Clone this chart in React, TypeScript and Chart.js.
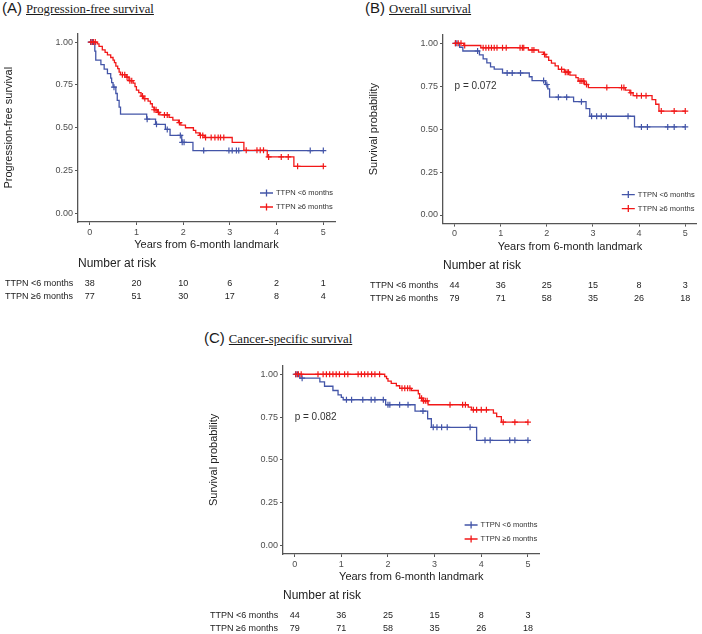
import React, { useEffect, useRef } from "react";
import { Chart, registerables } from "chart.js";

Chart.register(...registerables);

const SANS = "'Liberation Sans', Arial, sans-serif";
const SERIF = "'Liberation Serif', 'Times New Roman', serif";
const BLUE = "#4355A8";
const RED = "#F21818";

// ---------- shared labels ----------
const yearTicks = [0, 1, 2, 3, 4, 5];
const probTicks = [0, 0.25, 0.5, 0.75, 1];
const groupLabels = ["TTPN <6 months", "TTPN \u22656 months"];
const xTitle = "Years from 6-month landmark";
const riskTitle = "Number at risk";

// ---------- (A) Progression-free survival ----------
const pfsShortTimes = [0.11, 0.13, 0.24, 0.31, 0.38, 0.45, 0.47, 0.5, 0.56, 0.59, 0.63, 0.66, 1.22, 1.41, 1.62, 1.72, 1.97, 2.21];
const pfsShortSurv = [0.947, 0.895, 0.868, 0.842, 0.816, 0.79, 0.763, 0.737, 0.7, 0.66, 0.62, 0.579, 0.55, 0.52, 0.49, 0.455, 0.415, 0.367];
const pfsShortCensor = [0.02, 0.06, 0.52, 1.23, 1.43, 1.66, 1.94, 1.98, 2.02, 2.44, 2.98, 3.05, 3.14, 3.19, 4.72, 5.0];
const pfsLongTimes = [0.16, 0.2, 0.27, 0.33, 0.38, 0.45, 0.5, 0.53, 0.56, 0.6, 0.63, 0.66, 0.78, 0.84, 0.93, 0.97, 1.0, 1.05, 1.1, 1.15, 1.25, 1.3, 1.34, 1.38, 1.45, 1.5, 1.7, 1.78, 1.9, 1.95, 2.05, 2.22, 2.27, 2.35, 2.45, 3.05, 3.3, 3.8, 4.37];
const pfsLongSurv = [0.99, 0.975, 0.955, 0.94, 0.925, 0.91, 0.895, 0.88, 0.86, 0.845, 0.825, 0.81, 0.795, 0.775, 0.76, 0.74, 0.72, 0.705, 0.685, 0.67, 0.655, 0.64, 0.62, 0.605, 0.59, 0.575, 0.56, 0.545, 0.53, 0.515, 0.5, 0.485, 0.47, 0.455, 0.443, 0.415, 0.368, 0.33, 0.275];
const pfsLongCensor = [0.03, 0.08, 0.12, 0.7, 0.75, 0.8, 0.86, 0.9, 1.13, 1.18, 1.38, 1.42, 1.47, 1.6, 1.66, 1.92, 2.37, 2.42, 2.48, 2.6, 2.68, 2.75, 2.8, 2.87, 3.35, 3.58, 3.65, 3.72, 3.83, 4.1, 4.25, 4.45, 5.0];
const pfsRiskShort = [38, 20, 10, 6, 2, 1];
const pfsRiskLong = [77, 51, 30, 17, 8, 4];

// ---------- (B) Overall survival ----------
const osShortTimes = [0.11, 0.18, 0.54, 0.62, 0.7, 0.78, 0.86, 1.04, 1.62, 1.68, 1.97, 2.02, 2.06, 2.58, 2.85, 2.93, 3.9];
const osShortSurv = [0.977, 0.955, 0.932, 0.909, 0.886, 0.863, 0.85, 0.827, 0.805, 0.783, 0.76, 0.735, 0.686, 0.66, 0.62, 0.575, 0.513];
const osShortCensor = [0.02, 0.05, 0.5, 1.14, 1.25, 1.43, 1.93, 2.0, 2.25, 2.43, 2.75, 2.97, 3.08, 3.18, 3.29, 3.76, 4.05, 4.18, 4.62, 4.76, 5.0];
const osLongTimes = [0.2, 0.57, 1.6, 1.82, 1.93, 1.98, 2.04, 2.1, 2.18, 2.25, 2.38, 2.5, 2.63, 2.68, 2.82, 2.9, 3.7, 3.8, 3.87, 4.28, 4.36, 4.43];
const osLongSurv = [0.987, 0.974, 0.961, 0.948, 0.935, 0.92, 0.9, 0.885, 0.868, 0.848, 0.832, 0.815, 0.8, 0.78, 0.76, 0.742, 0.727, 0.712, 0.695, 0.672, 0.645, 0.605];
const osLongCensor = [0.02, 0.08, 0.14, 0.22, 0.62, 0.68, 0.74, 0.8, 0.86, 0.92, 1.04, 1.12, 1.42, 1.47, 1.5, 1.68, 1.72, 1.95, 2.32, 2.4, 2.44, 2.47, 2.72, 2.76, 2.8, 2.86, 3.3, 3.62, 3.67, 3.82, 3.95, 4.05, 4.15, 4.48, 4.76, 5.0];
const osRiskShort = [44, 36, 25, 15, 8, 3];
const osRiskLong = [79, 71, 58, 35, 26, 18];
const osPValue = "p = 0.072";

// ---------- (C) Cancer-specific survival ----------
const cssShortTimes = [0.11, 0.54, 0.64, 0.82, 0.93, 1.0, 1.04, 1.95, 2.58, 2.85, 2.93, 3.9];
const cssShortSurv = [0.977, 0.955, 0.93, 0.905, 0.88, 0.865, 0.851, 0.822, 0.785, 0.74, 0.69, 0.614];
const cssShortCensor = [0.02, 0.06, 0.16, 1.11, 1.22, 1.46, 1.64, 1.72, 1.9, 2.0, 2.04, 2.25, 2.43, 2.75, 2.97, 3.05, 3.15, 3.27, 3.76, 4.08, 4.19, 4.61, 4.72, 5.0];
const cssLongTimes = [1.93, 1.97, 2.0, 2.07, 2.18, 2.25, 2.5, 2.65, 2.68, 2.75, 2.86, 3.72, 3.79, 4.26, 4.33, 4.43];
const cssLongSurv = [0.987, 0.974, 0.96, 0.947, 0.933, 0.918, 0.905, 0.886, 0.86, 0.845, 0.822, 0.808, 0.792, 0.773, 0.752, 0.72];
const cssLongCensor = [0.03, 0.08, 0.14, 0.5, 0.61, 0.68, 0.75, 0.82, 0.89, 0.96, 1.07, 1.14, 1.36, 1.43, 1.5, 1.57, 1.65, 1.72, 1.82, 2.3, 2.36, 2.42, 2.47, 2.72, 2.76, 2.8, 2.84, 3.33, 3.6, 3.66, 3.83, 3.9, 4.0, 4.11, 4.47, 4.72, 5.0];
const cssRiskShort = [44, 36, 25, 15, 8, 3];
const cssRiskLong = [79, 71, 58, 35, 26, 18];
const cssPValue = "p = 0.082";

const followUpEnd = 5;

// ---------- helpers ----------
function stepPoints(times: number[], surv: number[], end: number) {
  const pts = [{ x: 0, y: 1 }];
  times.forEach((t, i) => pts.push({ x: t, y: surv[i] }));
  pts.push({ x: end, y: surv[surv.length - 1] });
  return pts;
}
function survAt(times: number[], surv: number[], t: number) {
  let s = 1;
  for (let i = 0; i < times.length; i++) if (times[i] <= t) s = surv[i];
  return s;
}
function censorPoints(times: number[], surv: number[], cens: number[]) {
  return cens.map((t) => ({ x: t, y: survAt(times, surv, t) }));
}

const X_AXIS_H = 30;
const Y_AXIS_W = 76;

type PanelDef = {
  key: string;
  letter: string;
  title: string;
  titleLeft: number;
  titleTop: number;
  left: number;
  top: number;
  width: number;
  height: number;
  areaTop: number;
  areaBottom: number;
  areaRight: number;
  yTitle: string;
  sT: number[]; sS: number[]; sC: number[];
  lT: number[]; lS: number[]; lC: number[];
  riskS: number[]; riskL: number[];
  pval: string | null;
};

const panels: PanelDef[] = [
  {
    key: "A", letter: "(A)", title: "Progression-free survival", titleLeft: 2, titleTop: -1,
    left: 2, top: 20, width: 343, height: 300, areaTop: 33.5, areaBottom: 222, areaRight: 335,
    yTitle: "Progression-free survival",
    sT: pfsShortTimes, sS: pfsShortSurv, sC: pfsShortCensor,
    lT: pfsLongTimes, lS: pfsLongSurv, lC: pfsLongCensor,
    riskS: pfsRiskShort, riskL: pfsRiskLong, pval: null,
  },
  {
    key: "B", letter: "(B)", title: "Overall survival", titleLeft: 365, titleTop: -1,
    left: 367, top: 20, width: 335, height: 300, areaTop: 34.7, areaBottom: 223.6, areaRight: 699.5,
    yTitle: "Survival probability",
    sT: osShortTimes, sS: osShortSurv, sC: osShortCensor,
    lT: osLongTimes, lS: osLongSurv, lC: osLongCensor,
    riskS: osRiskShort, riskL: osRiskLong, pval: osPValue,
  },
  {
    key: "C", letter: "(C)", title: "Cancer-specific survival", titleLeft: 204, titleTop: 329,
    left: 207, top: 350, width: 338, height: 284, areaTop: 365.7, areaBottom: 554, areaRight: 539.6,
    yTitle: "Survival probability",
    sT: cssShortTimes, sS: cssShortSurv, sC: cssShortCensor,
    lT: cssLongTimes, lS: cssLongSurv, lC: cssLongCensor,
    riskS: cssRiskShort, riskL: cssRiskLong, pval: cssPValue,
  },
];

function decorPlugin(p: PanelDef) {
  return {
    id: "decor" + p.key,
    afterDraw(chart: any) {
      const { ctx, chartArea: a, scales } = chart;
      const x = scales.x;
      const y = scales.y;
      ctx.save();
      // p-value
      if (p.pval) {
        ctx.font = `10px ${SANS}`;
        ctx.fillStyle = "#333";
        ctx.textAlign = "left";
        ctx.textBaseline = "middle";
        ctx.fillText(p.pval, x.getPixelForValue(0), y.getPixelForValue(0.75));
      }
      // legend
      const colors = [BLUE, RED];
      const rows = [a.bottom - 29, a.bottom - 15];
      colors.forEach((c, i) => {
        const ly = rows[i];
        const x0 = a.right - 75;
        const x1 = a.right - 62;
        ctx.strokeStyle = c;
        ctx.lineWidth = 1.3;
        ctx.beginPath();
        ctx.moveTo(x0, ly);
        ctx.lineTo(x1, ly);
        const cx = (x0 + x1) / 2;
        ctx.moveTo(cx, ly - 3.5);
        ctx.lineTo(cx, ly + 3.5);
        ctx.stroke();
        ctx.font = `7.5px ${SANS}`;
        ctx.fillStyle = "#333";
        ctx.textAlign = "left";
        ctx.textBaseline = "middle";
        ctx.fillText(groupLabels[i], a.right - 59, ly);
      });
      // risk table
      ctx.font = `12px ${SANS}`;
      ctx.fillStyle = "#222";
      ctx.textAlign = "left";
      ctx.textBaseline = "middle";
      ctx.fillText(riskTitle, a.left, a.bottom + 42);
      const riskRows = [p.riskS, p.riskL];
      riskRows.forEach((vals, r) => {
        const ry = a.bottom + 62 + r * 12.5;
        ctx.font = `9px ${SANS}`;
        ctx.fillStyle = "#222";
        ctx.textAlign = "left";
        ctx.fillText(groupLabels[r], a.left - 73, ry);
        ctx.textAlign = "center";
        vals.forEach((v, i) => {
          ctx.fillText(String(v), x.getPixelForValue(yearTicks[i]), ry);
        });
      });
      ctx.restore();
    },
  };
}

function Panel({ p }: { p: PanelDef }) {
  const ref = useRef<HTMLCanvasElement | null>(null);
  useEffect(() => {
    if (!ref.current) return;
    const axisColor = "#555";
    const chart = new Chart(ref.current, {
      type: "line",
      data: {
        datasets: [
          {
            data: stepPoints(p.lT, p.lS, followUpEnd),
            borderColor: RED, borderWidth: 1.3, pointRadius: 0, stepped: true, fill: false, order: 0,
          } as any,
          {
            data: censorPoints(p.lT, p.lS, p.lC),
            showLine: false, pointStyle: "cross", pointRadius: 3, pointBorderWidth: 1.2,
            borderColor: RED, pointBorderColor: RED, order: 0,
          } as any,
          {
            data: stepPoints(p.sT, p.sS, followUpEnd),
            borderColor: BLUE, borderWidth: 1.3, pointRadius: 0, stepped: true, fill: false, order: 1,
          } as any,
          {
            data: censorPoints(p.sT, p.sS, p.sC),
            showLine: false, pointStyle: "cross", pointRadius: 3, pointBorderWidth: 1.2,
            borderColor: BLUE, pointBorderColor: BLUE, order: 1,
          } as any,
        ],
      },
      options: {
        responsive: false,
        animation: false,
        events: [],
        layout: {
          padding: {
            left: 0,
            top: p.areaTop - p.top,
            right: p.left + p.width - p.areaRight,
            bottom: p.top + p.height - p.areaBottom - X_AXIS_H,
          },
        },
        plugins: {
          legend: { display: false },
          tooltip: { enabled: false },
          title: { display: false },
        },
        scales: {
          x: {
            type: "linear",
            min: -0.25,
            max: 5.25,
            afterBuildTicks: (ax: any) => {
              ax.ticks = yearTicks.map((v) => ({ value: v }));
            },
            afterFit: (s: any) => {
              s.height = X_AXIS_H;
            },
            grid: { display: true, drawOnChartArea: false, drawTicks: true, tickLength: 3, color: axisColor },
            border: { display: true, color: axisColor, width: 1.3 },
            ticks: {
              font: { family: SANS, size: 9 },
              color: "#4D4D4D",
              padding: 2,
              maxRotation: 0,
              autoSkip: false,
              callback: (v: any) => String(v),
            },
            title: {
              display: true,
              text: xTitle,
              font: { family: SANS, size: 11 },
              color: "#222",
              padding: 0,
            },
          },
          y: {
            type: "linear",
            min: -0.05,
            max: 1.05,
            afterBuildTicks: (ax: any) => {
              ax.ticks = probTicks.map((v) => ({ value: v }));
            },
            afterFit: (s: any) => {
              s.width = Y_AXIS_W;
            },
            grid: { display: true, drawOnChartArea: false, drawTicks: true, tickLength: 3, color: axisColor },
            border: { display: true, color: axisColor, width: 1.3 },
            ticks: {
              font: { family: SANS, size: 9 },
              color: "#4D4D4D",
              padding: 2,
              autoSkip: false,
              callback: (v: any) => Number(v).toFixed(2),
            },
            title: {
              display: true,
              text: p.yTitle,
              font: { family: SANS, size: 11 },
              color: "#222",
              padding: 0,
            },
          },
        },
      } as any,
      plugins: [decorPlugin(p)],
    });
    return () => chart.destroy();
  }, [p]);

  return (
    <>
      <div
        style={{
          position: "absolute",
          left: p.titleLeft,
          top: p.titleTop,
          whiteSpace: "nowrap",
          color: "#1a1a1a",
          lineHeight: "normal",
        }}
      >
        <span style={{ fontFamily: SANS, fontSize: 15 }}>{p.letter}</span>
        <span
          style={{
            fontFamily: SERIF,
            fontSize: 12.7,
            textDecoration: "underline",
            marginLeft: 4,
          }}
        >
          {p.title}
        </span>
      </div>
      <canvas
        ref={ref}
        width={p.width}
        height={p.height}
        style={{ position: "absolute", left: p.left, top: p.top, width: p.width, height: p.height }}
      />
    </>
  );
}

export default function App() {
  return (
    <div
      style={{
        position: "absolute",
        left: 0,
        top: 0,
        width: 702,
        height: 634,
        background: "#fff",
        overflow: "hidden",
      }}
    >
      {panels.map((p) => (
        <Panel key={p.key} p={p} />
      ))}
    </div>
  );
}
